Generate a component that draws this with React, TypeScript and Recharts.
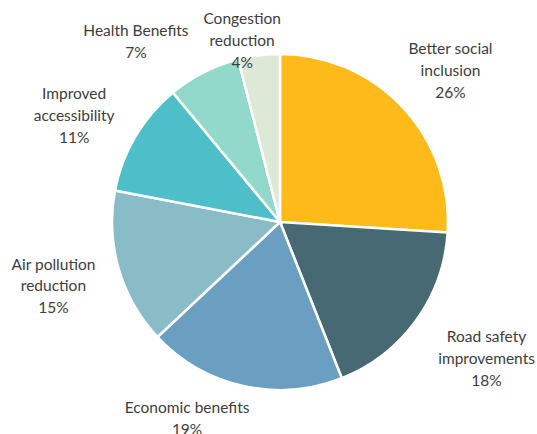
import { Cell, Pie, PieChart } from 'recharts'

const categories = [
  'Better social inclusion',
  'Road safety improvements',
  'Economic benefits',
  'Air pollution reduction',
  'Improved accessibility',
  'Health Benefits',
  'Congestion reduction',
]
const shares = [26, 18, 19, 15, 11, 7, 4]
const labelLines = [
  ['Better social', 'inclusion'],
  ['Road safety', 'improvements'],
  ['Economic benefits'],
  ['Air pollution', 'reduction'],
  ['Improved', 'accessibility'],
  ['Health Benefits'],
  ['Congestion', 'reduction'],
]

const COLORS = ['#fdba19', '#476974', '#6a9fc1', '#89bcc7', '#4ebfc8', '#93d9cb', '#dde9d5']

// hand-placed label tweaks, like the moved labels in the source chart
const LABEL_NUDGE = [
  [-3, 11],
  [14, -4],
  [-41, -36],
  [2, -3],
  [-1, 14],
  [-36, 31],
  [-8, 54],
]

const data = categories.map((name, i) => ({ name, value: shares[i] }))

const RADIAN = Math.PI / 180
const LINE_H = 21.7

function renderLabel(props: any) {
  const { cx, cy, midAngle, outerRadius, index, value } = props
  const r = outerRadius + 70
  const [dx, dy] = LABEL_NUDGE[index]
  const x = cx + r * Math.cos(-midAngle * RADIAN) + dx
  const y = cy + r * Math.sin(-midAngle * RADIAN) + dy
  const lines = [...labelLines[index], `${value}%`]
  const top = y - ((lines.length - 1) / 2) * LINE_H
  return (
    <text
      key={index}
      x={x}
      y={top}
      textAnchor="middle"
      dominantBaseline="central"
      fill="#3d3d3d"
      fontSize={15.5}
      fontFamily="Lato, 'Open Sans', sans-serif"
    >
      {lines.map((t, i) => (
        <tspan key={i} x={x} y={top + i * LINE_H}>
          {t}
        </tspan>
      ))}
    </text>
  )
}

export default function App() {
  return (
    <div style={{ position: 'absolute', left: 0, top: 0, width: 537, height: 434, background: '#fff' }}>
      <PieChart width={537} height={434} margin={{ top: 0, right: 0, bottom: 0, left: 0 }}>
        <Pie
          data={data}
          dataKey="value"
          nameKey="name"
          cx={280}
          cy={222}
          outerRadius={168}
          startAngle={90}
          endAngle={-270}
          stroke="#ffffff"
          strokeWidth={2.5}
          label={renderLabel}
          labelLine={false}
          isAnimationActive={false}
        >
          {data.map((_, i) => (
            <Cell key={i} fill={COLORS[i]} />
          ))}
        </Pie>
      </PieChart>
    </div>
  )
}
